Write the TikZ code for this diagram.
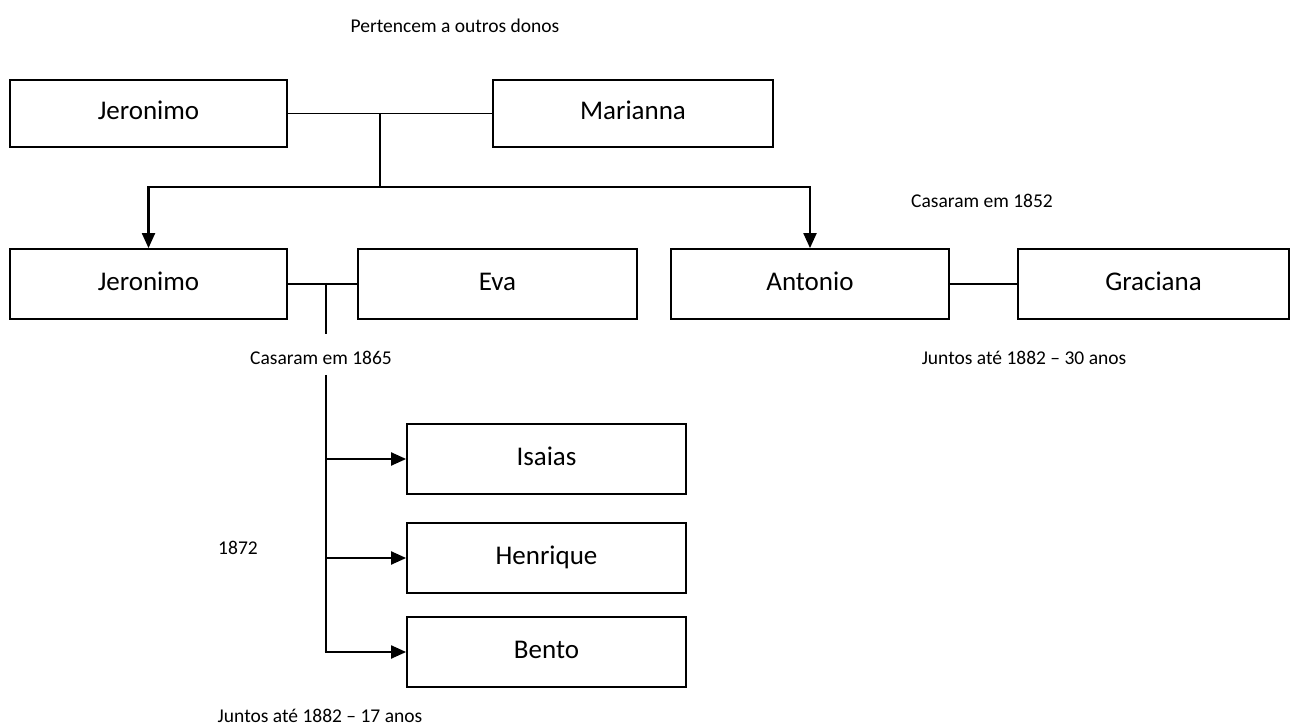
\documentclass[tikz,border=0pt]{standalone}
\usepackage{fontspec}
\setmainfont{Carlito}
\usetikzlibrary{arrows.meta,calc}
\begin{document}
\begin{tikzpicture}[x=1pt,y=-1pt,
  person/.style={draw,line width=1.8pt,rectangle,inner sep=0pt,minimum width=279pt,minimum height=70pt,
    text height=18pt,text depth=5pt,font=\fontsize{27}{30}\selectfont},
  link/.style={line width=1.7pt},
  thickline/.style={line width=2.8pt},
  arr/.style={line width=2.1pt,-{Triangle[length=15pt,width=13pt]}},
  note/.style={font=\fontsize{19.5}{22}\selectfont,inner sep=0pt}]
\useasboundingbox (0,0) rectangle (1291,727);
% first generation
\node[person,minimum width=277pt,minimum height=67pt] (jer1) at (148.5,113.5) {Jeronimo};
\node[person,minimum width=280pt,minimum height=67pt] (mar) at (633,113.5) {Marianna};
% second generation
\node[person,minimum width=277pt] (jer2) at (148.5,284) {Jeronimo};
\node[person] (eva) at (497.5,284) {Eva};
\node[person,minimum width=278pt] (ant) at (810,284) {Antonio};
\node[person,minimum width=271pt] (gra) at (1153.5,284) {Graciana};
% children
\node[person] (isa) at (546.5,459) {Isaias};
\node[person] (hen) at (546.5,558) {Henrique};
\node[person] (ben) at (546.5,652) {Bento};
% couple 1 and its descent
\coordinate (c1) at (380,113.5);
\coordinate (bus) at (380,187);
\draw[link] (jer1) -- (mar);
\draw[link] (c1) -- (bus);
\draw[link] (148,187) -- (810,187);
\draw[arr] (bus) -| (jer2.north);
\draw[arr] (bus) -| (ant.north);
% couple 2
\draw[link] (jer2) -- (eva);
\draw[link] (ant) -- (gra);
\coordinate (c2) at (326,283);
\coordinate (c2b) at (326,334);
\draw[thickline] (c2) -- (c2b);
% children line
\coordinate (kidtop) at (326,375);
\coordinate (kidbot) at (326,653);
\draw[thickline] (kidtop) -- (kidbot);
\draw[arr] (326,459) -- (isa.west);
\draw[arr] (326,558) -- (hen.west);
\draw[arr] (324.6,652) -- (ben.west);
% notes
\node[note] (n1) at (455,26) {Pertencem a outros donos};
\node[note] (n2) at (982,201) {Casaram em 1852};
\node[note] (n3) at (321,358) {Casaram em 1865};
\node[note] (n4) at (1024,358) {Juntos até 1882 – 30 anos};
\node[note] (n5) at (238,548) {1872};
\node[note] (n6) at (320,716) {Juntos até 1882 – 17 anos};
\end{tikzpicture}
\end{document}
